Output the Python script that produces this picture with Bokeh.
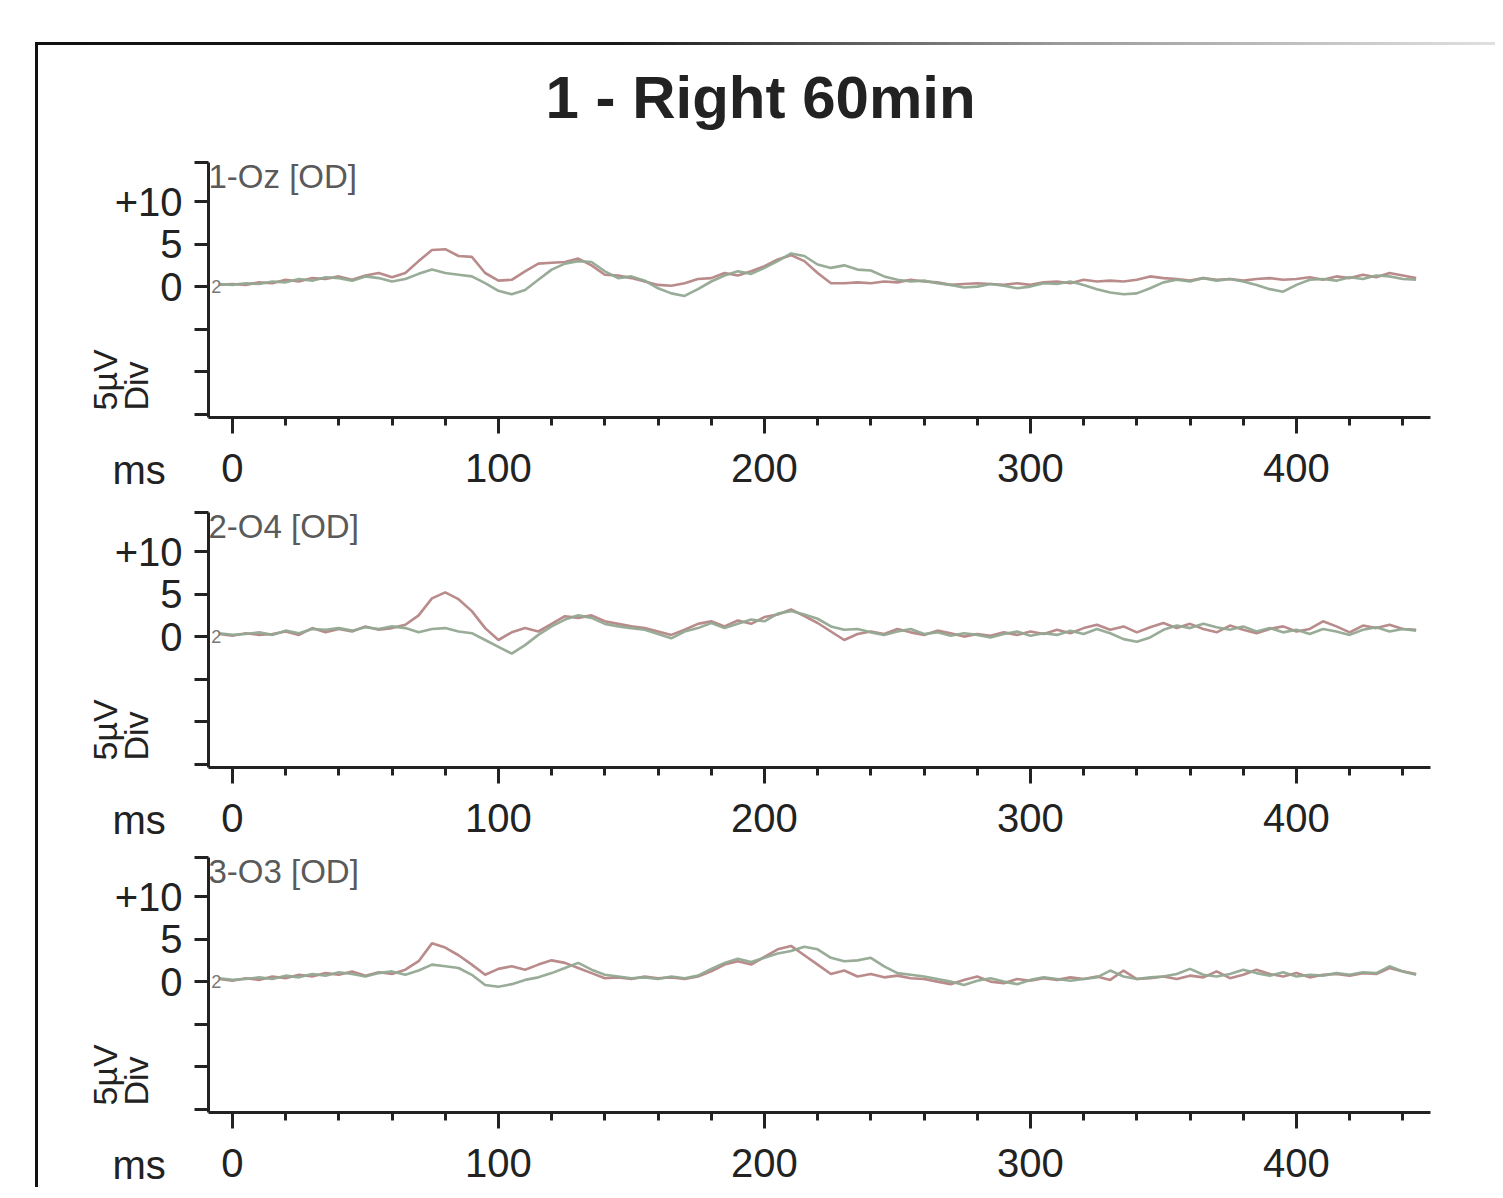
from bokeh.plotting import figure
from bokeh.models import FixedTicker, Label, Range1d, CustomJSTickFormatter, Title
from bokeh.layouts import column
from bokeh.embed import file_html
from bokeh.resources import INLINE

# ---------------- data ----------------
title_text = "1 - Right 60min"
channels = ["1-Oz [OD]", "2-O4 [OD]", "3-O3 [OD]"]
x_ticks = [0, 100, 200, 300, 400]
x_minor_ticks = [20, 40, 60, 80, 120, 140, 160, 180, 220, 240, 260, 280,
                 320, 340, 360, 380, 420, 440]
y_ticks = [-15, -10, -5, 0, 5, 10]

time_ms = list(range(-5, 450, 5))

red_1 = [0.2, 0.3, 0.2, 0.5, 0.4, 0.8, 0.6, 1.0, 0.9, 1.2,
         0.8, 1.3, 1.6, 1.1, 1.6, 3.0, 4.3, 4.4, 3.6, 3.5,
         1.6, 0.7, 0.8, 1.8, 2.7, 2.8, 2.9, 3.3, 2.5, 1.4,
         1.3, 1.0, 0.6, 0.2, 0.1, 0.4, 0.9, 1.0, 1.6, 1.3,
         1.8, 2.4, 3.2, 3.7, 3.0, 1.6, 0.4, 0.4, 0.5, 0.4,
         0.6, 0.5, 0.8, 0.6, 0.5, 0.2, 0.3, 0.4, 0.3, 0.2,
         0.4, 0.2, 0.5, 0.6, 0.4, 0.8, 0.6, 0.7, 0.6, 0.8,
         1.2, 1.0, 0.9, 0.7, 1.0, 0.8, 0.9, 0.7, 0.9, 1.0,
         0.8, 0.9, 1.1, 0.8, 1.2, 1.0, 1.4, 1.1, 1.6, 1.3,
         1.0]
green_1 = [0.3, 0.2, 0.4, 0.3, 0.6, 0.5, 0.9, 0.7, 1.1, 1.0,
           0.7, 1.2, 1.0, 0.6, 0.9, 1.5, 2.0, 1.6, 1.4, 1.2,
           0.4, -0.5, -0.9, -0.4, 0.8, 2.0, 2.7, 3.0, 2.9, 1.8,
           1.0, 1.2, 0.7, -0.2, -0.8, -1.1, -0.3, 0.6, 1.3, 1.8,
           1.5, 2.2, 3.0, 3.9, 3.6, 2.6, 2.2, 2.5, 2.0, 1.9,
           1.2, 0.8, 0.6, 0.7, 0.4, 0.2, -0.1, 0.0, 0.3, 0.1,
           -0.2, 0.0, 0.4, 0.3, 0.6, 0.2, -0.3, -0.7, -0.9, -0.8,
           -0.2, 0.5, 0.8, 0.6, 1.0, 0.7, 0.9, 0.6, 0.2, -0.3,
           -0.6, 0.2, 0.8, 0.9, 0.7, 1.1, 0.9, 1.3, 1.2, 0.9,
           0.8]
red_2 = [0.3, 0.1, 0.4, 0.2, 0.3, 0.6, 0.2, 1.0, 0.5, 0.9,
         0.6, 1.2, 0.8, 1.0, 1.4, 2.5, 4.5, 5.2, 4.4, 3.0,
         1.0, -0.4, 0.5, 1.0, 0.6, 1.5, 2.4, 2.2, 2.5, 1.8,
         1.5, 1.2, 1.0, 0.6, 0.2, 0.8, 1.5, 1.8, 1.2, 1.9,
         1.5, 2.3, 2.6, 3.2, 2.4, 1.6, 0.6, -0.4, 0.3, 0.6,
         0.3, 0.9, 0.5, 0.2, 0.7, 0.4, 0.0, 0.3, 0.1, 0.5,
         0.2, 0.6, 0.3, 0.8, 0.4, 1.0, 1.4, 0.8, 1.2, 0.5,
         1.1, 1.6, 1.0, 1.5, 0.9, 0.5, 1.3, 0.8, 0.4, 0.9,
         1.2, 0.6, 0.9, 1.8, 1.2, 0.5, 1.3, 1.0, 1.4, 0.9,
         0.8]
green_2 = [0.4, 0.2, 0.3, 0.5, 0.2, 0.7, 0.4, 0.9, 0.8, 1.0,
           0.7, 1.1, 0.9, 1.2, 1.0, 0.5, 0.9, 1.0, 0.6, 0.4,
           -0.4, -1.2, -2.0, -1.0, 0.2, 1.2, 2.0, 2.5, 2.2, 1.5,
           1.2, 1.0, 0.8, 0.3, -0.2, 0.6, 1.0, 1.6, 1.0, 1.5,
           2.0, 1.8, 2.7, 3.0, 2.6, 2.1, 1.2, 0.8, 0.9, 0.5,
           0.2, 0.6, 0.9, 0.3, 0.5, 0.1, 0.4, 0.2, -0.1, 0.3,
           0.6, 0.1, 0.4, 0.2, 0.7, 0.3, 0.9, 0.4, -0.3, -0.6,
           -0.1, 0.8, 1.3, 1.0, 1.5, 1.1, 0.8, 1.2, 0.6, 1.0,
           0.5, 0.8, 0.3, 0.9, 0.6, 0.2, 0.8, 1.1, 0.6, 0.9,
           0.7]
red_3 = [0.3, 0.1, 0.4, 0.2, 0.6, 0.4, 0.8, 0.6, 1.0, 0.8,
         1.2, 0.7, 1.1, 0.9, 1.4, 2.4, 4.5, 4.0, 3.1, 2.0,
         0.8, 1.5, 1.8, 1.4, 2.0, 2.5, 2.2, 1.6, 1.0, 0.4,
         0.5, 0.3, 0.6, 0.4, 0.5, 0.3, 0.6, 1.2, 2.0, 2.4,
         2.0, 2.9, 3.8, 4.2, 3.1, 2.0, 0.9, 1.3, 0.6, 0.9,
         0.5, 0.7, 0.4, 0.3, 0.0, -0.3, 0.2, 0.6, 0.0, -0.2,
         0.3, 0.1, 0.4, 0.2, 0.5, 0.3, 0.6, 0.2, 1.3, 0.3,
         0.4, 0.6, 0.3, 0.7, 0.5, 1.2, 0.4, 0.8, 1.4, 0.9,
         0.6, 1.0, 0.5, 0.8, 0.9, 0.7, 1.0, 0.9, 1.6, 1.2,
         0.9]
green_3 = [0.4, 0.2, 0.3, 0.5, 0.3, 0.7, 0.5, 0.9, 0.7, 1.1,
           0.9, 0.6, 1.0, 1.2, 0.8, 1.3, 2.0, 1.8, 1.6, 0.8,
           -0.4, -0.6, -0.3, 0.2, 0.5, 1.0, 1.6, 2.2, 1.4, 0.8,
           0.6, 0.4, 0.5, 0.3, 0.6, 0.4, 0.7, 1.5, 2.2, 2.7,
           2.3, 2.8, 3.3, 3.6, 4.1, 3.8, 2.8, 2.4, 2.5, 2.8,
           1.8, 1.0, 0.8, 0.6, 0.3, 0.0, -0.4, 0.1, 0.4, 0.0,
           -0.3, 0.2, 0.5, 0.3, 0.1, 0.3, 0.5, 1.3, 0.6, 0.3,
           0.5, 0.6, 0.9, 1.5, 0.8, 0.6, 0.9, 1.4, 1.0, 0.7,
           1.1, 0.6, 0.8, 0.7, 1.0, 0.8, 1.1, 1.0, 1.8, 1.2,
           0.8]

red_series = [red_1, red_2, red_3]
green_series = [green_1, green_2, green_3]

# ---------------- style ----------------
FONT = "Liberation Sans"
INK = "#222222"
RED = "#b58585"
GREEN = "#92a892"

panel_sizes = [  # (height, min_border_top, min_border_bottom)
    (460, 117, 88),
    (347, 7, 85),
    (335, 5, 75),
]


def make_panel(i):
    height, btop, bbot = panel_sizes[i]
    p = figure(width=1457, height=height,
               x_range=Range1d(-9, 450.4), y_range=Range1d(-15.4, 14.6),
               output_backend="svg", toolbar_location=None,
               min_border_left=170, min_border_right=65,
               min_border_top=btop, min_border_bottom=bbot,
               background_fill_color="white", border_fill_color="white")
    p.outline_line_color = None
    p.grid.visible = False
    p.title.text = ""
    p.title.text_font_size = "0px"
    p.title.standoff = 0

    # x axis
    xa = p.xaxis[0]
    xa.ticker = FixedTicker(ticks=x_ticks, minor_ticks=x_minor_ticks)
    xa.axis_line_color = INK
    xa.axis_line_width = 3
    xa.major_tick_line_color = INK
    xa.major_tick_line_width = 3
    xa.major_tick_out = 16
    xa.major_tick_in = 0
    xa.minor_tick_line_color = INK
    xa.minor_tick_line_width = 3
    xa.minor_tick_out = 8
    xa.minor_tick_in = 0
    xa.major_label_standoff = 20
    xa.major_label_text_font = FONT
    xa.major_label_text_font_size = "40px"
    xa.major_label_text_color = INK

    # y axis
    ya = p.yaxis[0]
    ya.ticker = FixedTicker(ticks=y_ticks + [14.6], minor_ticks=[])
    ya.formatter = CustomJSTickFormatter(
        code="if (Math.abs(tick-10)<0.01) {return '+10'} "
             "if (Math.abs(tick-5)<0.01) {return '5'} "
             "if (Math.abs(tick)<0.01) {return '0'} return ''")
    ya.axis_line_color = INK
    ya.axis_line_width = 3
    ya.major_tick_line_color = INK
    ya.major_tick_line_width = 3
    ya.major_tick_out = 14
    ya.major_tick_in = 0
    ya.minor_tick_line_color = None
    ya.major_label_standoff = 12
    ya.major_label_text_font = FONT
    ya.major_label_text_font_size = "40px"
    ya.major_label_text_color = INK

    # traces
    p.line(time_ms, red_series[i], line_color=RED, line_width=2.6, line_alpha=0.95)
    p.line(time_ms, green_series[i], line_color=GREEN, line_width=2.6, line_alpha=0.95)

    # channel label and trace marker (inside the frame)
    p.add_layout(Label(x=-9, y=13, text=channels[i], text_font=FONT,
                       text_font_size="33px", text_color="#5a5a5a",
                       text_baseline="middle", text_align="left"))
    p.add_layout(Label(x=-8, y=0, text="2", text_font=FONT,
                       text_font_size="18px", text_color="#777777",
                       text_baseline="middle", text_align="left"))

    # unit label of the amplitude axis (left side panel, vertical)
    unit = Title(text="5µV\nDiv", align="left", vertical_align="bottom",
                 offset=7, standoff=-88, text_font=FONT,
                 text_font_size="34px", text_font_style="normal",
                 text_color=INK, text_line_height=0.82)
    p.add_layout(unit, "left")

    # unit label of the time axis (below side panel)
    ms = Title(text="ms", align="left", vertical_align="top",
               offset=-96, standoff=-74, text_font=FONT,
               text_font_size="40px", text_font_style="normal",
               text_color=INK)
    p.add_layout(ms, "below")

    if i == 0:
        spacer = Title(text=" ", text_font_size="10px", standoff=19)
        p.add_layout(spacer, "above")
        main = Title(text=title_text, align="left", vertical_align="bottom",
                     offset=337, standoff=0, text_font=FONT,
                     text_font_size="60px", text_font_style="bold",
                     text_color=INK)
        p.add_layout(main, "above")
    return p


panels = [make_panel(i) for i in range(3)]

layout = column(*panels, spacing=0, styles={
    "margin-left": "35px",
    "margin-top": "42px",
    "border-left": "3px solid #1a1a1a",
    "border-top": "3px solid #1a1a1a",
    "border-image": "linear-gradient(to right, #111 0%, #1a1a1a 40%, #9a9a9a 70%, #e0e0e0 100%) 1",
    "border-right": "0px",
    "border-bottom": "0px",
})

open("out.html", "w").write(file_html(layout, INLINE))
